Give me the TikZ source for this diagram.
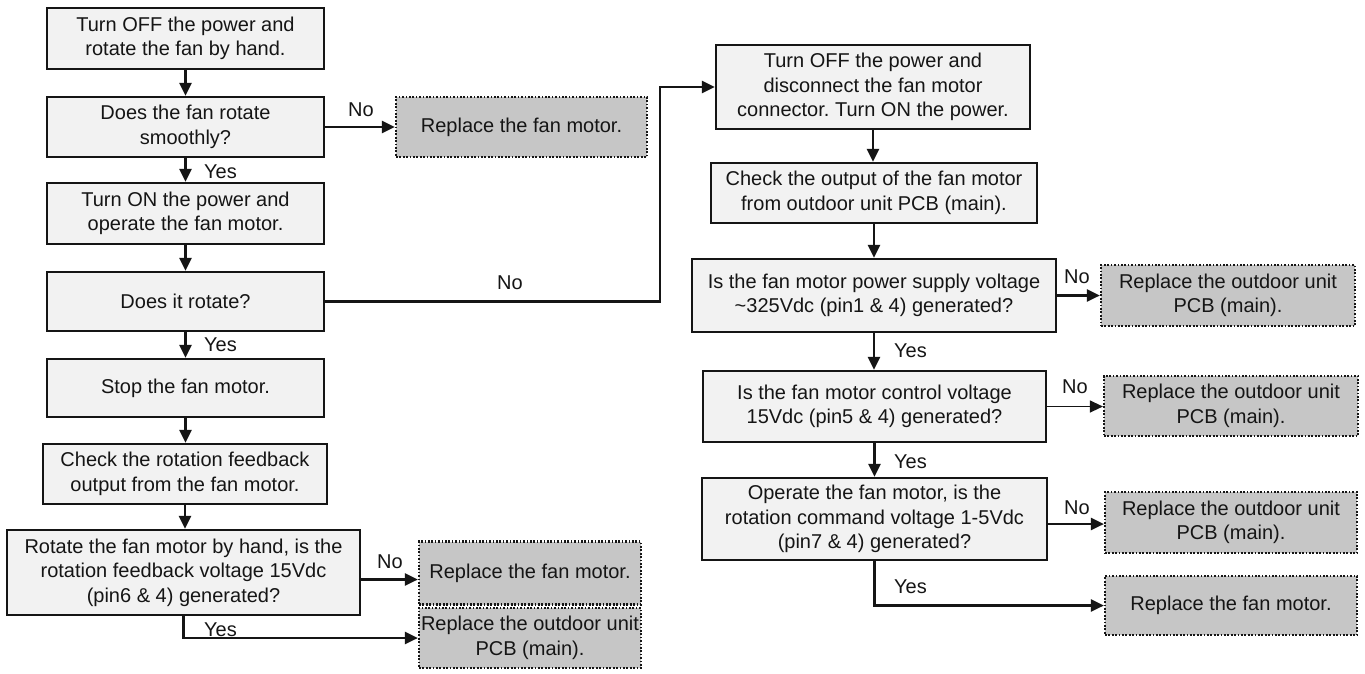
\documentclass[tikz,border=0pt]{standalone}
\usepackage{fontspec}
\setmainfont{Liberation Sans}
\usetikzlibrary{arrows.meta}
\definecolor{boxfill}{HTML}{F2F2F2}
\definecolor{grayfill}{HTML}{C6C6C6}
\definecolor{ink}{HTML}{151515}
\frenchspacing
\begin{document}
\begin{tikzpicture}[x=1pt,y=-1pt,
  proc/.style={draw=ink, fill=boxfill, line width=2.3pt, align=center, inner sep=0pt,
    font=\fontsize{20}{24.5}\selectfont, text=ink},
  result/.style={draw=ink, fill=grayfill, line width=2.2pt, dash pattern=on 1.7pt off 1.7pt,
    align=center, inner sep=0pt, font=\fontsize{20}{24.5}\selectfont, text=ink},
  lbl/.style={font=\fontsize{20}{24}\selectfont, text=ink, inner sep=0pt},
  conn/.style={draw=ink, line width=2.4pt, -{Triangle[length=13pt,width=12pt]}},
  thinconn/.style={draw=ink, line width=1.2pt, -{Triangle[length=13pt,width=12pt]}}
]
\useasboundingbox (0,0) rectangle (1365,673);
\fill[white] (0,0) rectangle (1365,673);

% left column
\node[proc, minimum width=277pt, minimum height=61pt] (L1) at (185.5,38.5)
  {Turn OFF the power and\\rotate the fan by hand.};
\node[proc, minimum width=277pt, minimum height=60pt] (L2) at (185.5,127)
  {Does the fan rotate\\smoothly?};
\node[proc, minimum width=277pt, minimum height=61pt] (L3) at (185.5,213.5)
  {Turn ON the power and\\operate the fan motor.};
\node[proc, minimum width=277pt, minimum height=59pt] (L4) at (185.5,301.5)
  {Does it rotate?};
\node[proc, minimum width=277pt, minimum height=58pt] (L5) at (185.5,388)
  {Stop the fan motor.};
\node[proc, minimum width=284pt, minimum height=60pt] (L6) at (185,474)
  {Check the rotation feedback\\output from the fan motor.};
\node[proc, minimum width=353pt, minimum height=85pt] (L7) at (183.5,572.5)
  {Rotate the fan motor by hand, is the\\rotation feedback voltage 15Vdc\\(pin6 \& 4) generated?};

\node[result, minimum width=251pt, minimum height=60pt] (G1) at (521.5,127)
  {Replace the fan motor.};
\node[result, minimum width=222pt, minimum height=63pt] (G3) at (530,573)
  {Replace the fan motor.};
\node[result, minimum width=222pt, minimum height=60pt] (G4) at (530,638)
  {Replace the outdoor unit\\PCB (main).};

% right column
\node[proc, minimum width=314pt, minimum height=84pt] (R1) at (873,87)
  {Turn OFF the power and\\disconnect the fan motor\\connector. Turn ON the power.};
\node[proc, minimum width=326pt, minimum height=60pt] (R2) at (874,193)
  {Check the output of the fan motor\\from outdoor unit PCB (main).};
\node[proc, minimum width=364pt, minimum height=73pt] (R3) at (874,295.5)
  {Is the fan motor power supply voltage\\\textasciitilde325Vdc (pin1 \& 4) generated?};
\node[proc, minimum width=343pt, minimum height=71pt] (R4) at (874.5,406.5)
  {Is the fan motor control voltage\\15Vdc (pin5 \& 4) generated?};
\node[proc, minimum width=345pt, minimum height=82pt] (R5) at (874.5,519)
  {Operate the fan motor, is the\\rotation command voltage 1-5Vdc\\(pin7 \& 4) generated?};

\node[result, minimum width=254pt, minimum height=61pt] (GR1) at (1228,295.5)
  {Replace the outdoor unit\\PCB (main).};
\node[result, minimum width=254pt, minimum height=60pt] (GR2) at (1231,406)
  {Replace the outdoor unit\\PCB (main).};
\node[result, minimum width=252pt, minimum height=61pt] (GR3) at (1231,522.5)
  {Replace the outdoor unit\\PCB (main).};
\node[result, minimum width=252pt, minimum height=59pt] (GR4) at (1231,605.5)
  {Replace the fan motor.};

\coordinate (J) at (660,0);

% connectors, left
\draw[conn] (L1.south) -- (L1.south |- L2.north);
\draw[conn] (L2.south) -- (L2.south |- L3.north);
\draw[conn] (L3.south) -- (L3.south |- L4.north);
\draw[conn] (L4.south) -- (L4.south |- L5.north);
\draw[conn] (L5.south) -- (L5.south |- L6.north);
\draw[conn] (L6.south) -- (L6.south |- L7.north);
\draw[conn] (L2.east) -- (L2.east -| G1.west);
\draw[conn] ([yshift=-7pt]L7.east) -- ([yshift=-7pt]L7.east -| G3.west);
\draw[conn] (L7.south) |- (G4.west);
\draw[conn] (L4.east) -- (L4.east -| J) |- (R1.west);

% connectors, right
\draw[conn] (R1.south) -- (R1.south |- R2.north);
\draw[conn] (R2.south) -- (R2.south |- R3.north);
\draw[conn] (R3.south) -- (R3.south |- R4.north);
\draw[conn] (R4.south) -- (R4.south |- R5.north);
\draw[conn] (R3.east) -- (R3.east -| GR1.west);
\draw[thinconn] (R4.east) -- (R4.east -| GR2.west);
\draw[conn] ([yshift=-5pt]R5.east) -- ([yshift=-5pt]R5.east -| GR3.west);
\draw[conn] (R5.south) |- (GR4.west);

% labels
\node[lbl] (no1) at (361,110) {No};
\node[lbl, anchor=west] (yes1) at (204,172) {Yes};
\node[lbl] (no2) at (510,283) {No};
\node[lbl, anchor=west] (yes2) at (204,345) {Yes};
\node[lbl] (no3) at (390,562) {No};
\node[lbl, anchor=west] (yes3) at (204,630) {Yes};
\node[lbl] (no4) at (1077,277) {No};
\node[lbl, anchor=west] (yes4) at (894,351) {Yes};
\node[lbl] (no5) at (1075,387) {No};
\node[lbl, anchor=west] (yes5) at (894,462) {Yes};
\node[lbl] (no6) at (1077,508) {No};
\node[lbl, anchor=west] (yes6) at (894,587) {Yes};
\end{tikzpicture}
\end{document}
